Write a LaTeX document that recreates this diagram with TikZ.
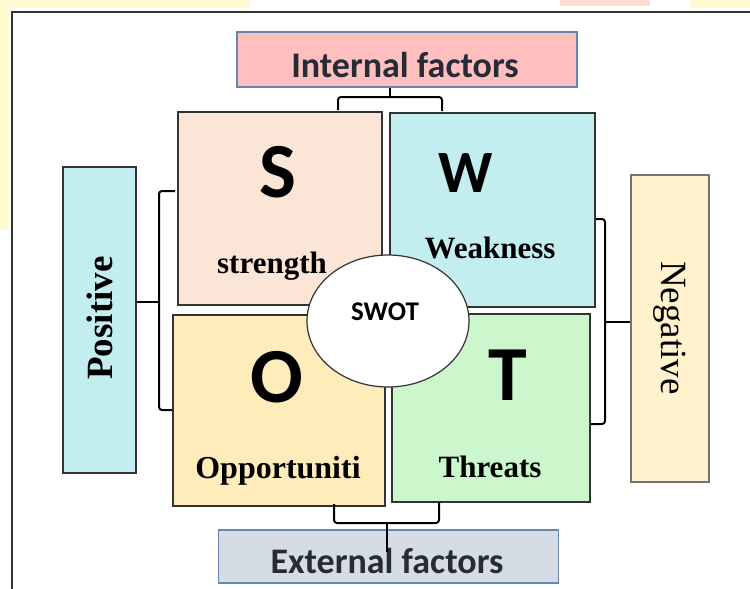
\documentclass[tikz,border=0pt]{standalone}
\usepackage{fontspec}
\setmainfont{Liberation Serif}
\newfontfamily\swotsans{Carlito}
\usepackage{tikz}
\usetikzlibrary{positioning,calc,shapes.geometric}

\definecolor{sfill}{RGB}{251,229,214}
\definecolor{wfill}{RGB}{194,238,240}
\definecolor{ofill}{RGB}{255,236,187}
\definecolor{tfill}{RGB}{204,246,204}
\definecolor{negfill}{RGB}{255,242,204}
\definecolor{intfill}{RGB}{255,191,191}
\definecolor{extfill}{RGB}{214,220,229}
\definecolor{factline}{RGB}{100,135,175}
\definecolor{facttext}{RGB}{38,43,54}
\definecolor{hilite}{RGB}{255,251,208}
\definecolor{hipink}{RGB}{255,221,212}

\tikzset{
  quad/.style={draw=black!80,line width=1.5pt,inner sep=0pt},
  factbox/.style={draw=factline,line width=1.2pt,inner sep=0pt,minimum width=340pt,text=facttext,
    font=\swotsans\bfseries\fontsize{36}{40}\selectfont},
  sidebox/.style={line width=1.5pt,inner sep=0pt,minimum width=75pt,minimum height=306pt},
  bigletter/.style={anchor=base,font=\swotsans\bfseries\fontsize{78}{80}\selectfont},
  quadword/.style={anchor=base,font=\bfseries\fontsize{31}{34}\selectfont},
  brace/.style={line width=2pt,rounded corners=3pt}
}

\begin{document}
\begin{tikzpicture}[x=1pt,y=-1pt]
\useasboundingbox (0,0) rectangle (750,589);
\fill [white] (0,0) rectangle (750,589);
\fill [hilite] (0,0) rectangle (250,8);
\fill [hilite] (0,0) rectangle (9,230);
\fill [hipink] (560,0) rectangle (650,6);
\fill [hilite] (690,0) rectangle (750,8);
\draw [black!80,line width=1.5pt] (12,589) -- (12,12) -- (750,12);

\node [factbox,fill=intfill,minimum height=55pt] (internal) at (407,59.5) {};
\node [anchor=base,text=facttext,font=\swotsans\bfseries\fontsize{36}{40}\selectfont] (inttext) at (405,77) {Internal factors};

\node [quad,fill=sfill,minimum width=204pt,minimum height=193pt] (sbox) at (280,208.5) {};
\node [quad,fill=wfill,minimum width=205pt,minimum height=194pt] (wbox) at (492.5,210) {};
\node [quad,fill=ofill,minimum width=212pt,minimum height=191pt] (obox) at (279,410.5) {};
\node [quad,fill=tfill,minimum width=198pt,minimum height=188pt] (tbox) at (491,408) {};

\node [bigletter] (sletter) at (278,197) {S};
\node [bigletter,font=\swotsans\bfseries\fontsize{60}{62}\selectfont] (wletter) at (466,192) {W};
\node [bigletter] (oletter) at (277,402) {O};
\node [bigletter] (tletter) at (508,400) {T};

\node [quadword] (sword) at (272,273) {strength};
\node [quadword] (wword) at (490,258) {Weakness};
\node [quadword,font=\bfseries\fontsize{32}{34}\selectfont] (oword) at (278,478) {Opportuniti};
\node [quadword] (tword) at (490,477) {Threats};

\node [ellipse,draw=black!80,line width=1.2pt,fill=white,minimum width=162pt,minimum height=132pt,inner sep=0pt] (swot) at (388,321) {};
\node [anchor=base,font=\swotsans\bfseries\fontsize{27}{30}\selectfont] (swottext) at (385,320) {SWOT};

\node [sidebox,draw=black!80,fill=wfill,minimum width=73pt] (positive) at (99.5,320) {};
\node [rotate=90,font=\bfseries\fontsize{37}{40}\selectfont] (postext) at (100,318) {Positive};
\node [sidebox,draw=black!55,fill=negfill,minimum width=78pt,minimum height=307pt] (negative) at (670,328.5) {};
\node [rotate=-90,font=\fontsize{37}{40}\selectfont] (negtext) at (670,328) {Negative};

\node [factbox,fill=extfill,minimum height=53pt] (external) at (388.5,556.5) {};
\node [anchor=base,text=facttext,font=\swotsans\bfseries\fontsize{36}{40}\selectfont] (exttext) at (387,573) {External factors};

\coordinate (inL) at (338,110);
\coordinate (inR) at (442,111);
\coordinate (inmid) at (390,97);
\draw [brace] (inL) |- (inmid) -| (inR);
\draw [brace] (internal.south -| inmid) -- (inmid);

\coordinate (exL) at (334,504);
\coordinate (exR) at (439,502);
\coordinate (exmid) at (387,523);
\coordinate (exend) at (387,552);
\draw [brace] (exL) |- (exmid) -| (exR);
\draw [brace] (exmid) -- (exend);

\coordinate (posT) at (175,191);
\coordinate (posB) at (172,410);
\coordinate (posmid) at (159,302);
\draw [brace] (posT) -| (posmid) |- (posB);
\draw [brace] (positive.east |- posmid) -- (posmid);

\coordinate (negT) at (596,219);
\coordinate (negB) at (591,424);
\coordinate (negmid) at (605,322);
\draw [brace] (negT) -| (negmid) |- (negB);
\draw [brace] (negmid) -- (negative.west |- negmid);

\end{tikzpicture}
\end{document}
